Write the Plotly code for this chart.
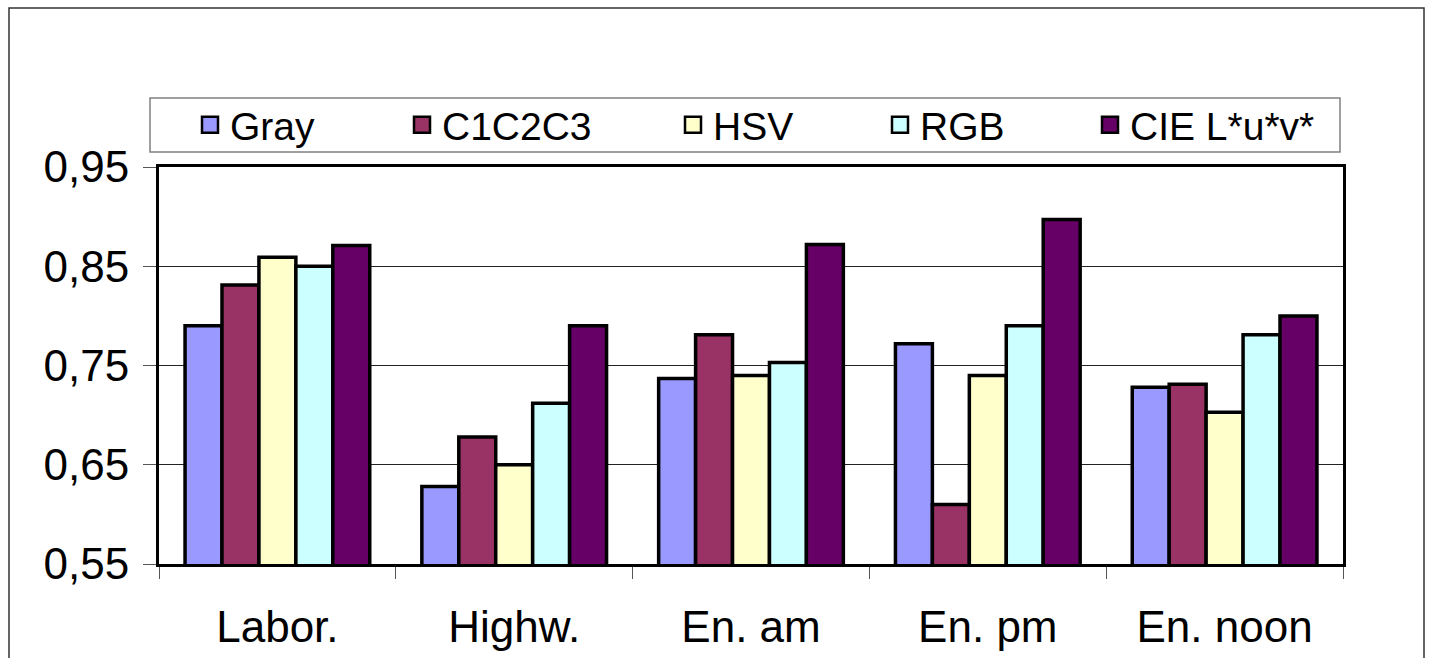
import plotly.graph_objects as go

categories = ["Labor.", "Highw.", "En. am", "En. pm", "En. noon"]
series_names = ["Gray", "C1C2C3", "HSV", "RGB", "CIE L*u*v*"]
gray = [0.79, 0.628, 0.737, 0.772, 0.728]
c1c2c3 = [0.831, 0.678, 0.781, 0.61, 0.731]
hsv = [0.859, 0.65, 0.74, 0.74, 0.703]
rgb = [0.85, 0.712, 0.753, 0.79, 0.781]
cie = [0.871, 0.79, 0.872, 0.897, 0.80]
colors = ["#9999FF", "#993366", "#FFFFCC", "#CCFFFF", "#660066"]
y_ticks = [0.55, 0.65, 0.75, 0.85, 0.95]

series_values = [gray, c1c2c3, hsv, rgb, cie]

W, H = 1431, 658
L, R, T, B = 159, 88, 167, 94
PW, PH = W - L - R, H - T - B

def px_x(px):
    return (px - L) / PW

def px_y(py):
    return (H - B - py) / PH

FONT = "Liberation Sans, Arial, sans-serif"

fig = go.Figure()
legend_text_x = [230, 442, 713, 920, 1130]
for i, (name, vals, col) in enumerate(zip(series_names, series_values, colors)):
    lg = "legend" if i == 0 else f"legend{i+1}"
    fig.add_trace(go.Bar(
        x=categories, y=vals, name=name,
        marker=dict(color=col, line=dict(color="black", width=3.5)),
        legendgroup=name, showlegend=False,
    ))
    # legend swatch (larger square like the original)
    fig.add_trace(go.Scatter(
        x=[None], y=[None], name=name, mode="markers",
        marker=dict(symbol="square", size=16, color=col,
                    line=dict(color="black", width=2.5)),
        legendgroup=name, showlegend=True, legend=lg, hoverinfo="skip",
    ))

legend_common = dict(
    orientation="h", xanchor="left", yanchor="middle",
    bgcolor="rgba(0,0,0,0)", borderwidth=0,
    font=dict(family=FONT, size=39, color="black"),
    xref="paper", yref="paper", itemsizing="trace",
)
for i, tx in enumerate(legend_text_x):
    key = "legend" if i == 0 else f"legend{i+1}"
    fig.update_layout(**{key: dict(x=px_x(tx - 40), y=px_y(125), **legend_common)})

fig.update_layout(
    width=W, height=H, autosize=False,
    margin=dict(l=L, r=R, t=T, b=B, pad=0, autoexpand=False),
    paper_bgcolor="white", plot_bgcolor="white",
    barmode="group", bargap=0.22, bargroupgap=0,
    separators=", ",
    font=dict(family=FONT, color="black"),
    showlegend=True,
    shapes=[
        dict(type="rect", xref="paper", yref="paper",
             x0=px_x(9), x1=px_x(1424), y0=px_y(700), y1=px_y(8),
             line=dict(color="#333333", width=1.5), fillcolor="rgba(0,0,0,0)", layer="below"),
        dict(type="rect", xref="paper", yref="paper",
             x0=px_x(150), x1=px_x(1340), y0=px_y(152), y1=px_y(98),
             line=dict(color="#808080", width=1.5), fillcolor="white", layer="below"),
    ],
)

fig.update_xaxes(
    type="category", tickson="boundaries",
    ticks="outside", ticklen=12, tickwidth=1, tickcolor="#555555",
    showline=True, linecolor="black", linewidth=3, mirror=True,
    showgrid=False,
    tickfont=dict(family=FONT, size=44, color="black"),
    ticklabelstandoff=22,
)
fig.update_yaxes(
    range=[0.55, 0.95], tickvals=y_ticks, tickformat=".2f",
    ticks="outside", ticklen=13, tickwidth=1, tickcolor="#555555",
    showline=True, linecolor="black", linewidth=3, mirror=True,
    showgrid=True, gridcolor="#222222", gridwidth=1,
    zeroline=False,
    tickfont=dict(family=FONT, size=44, color="black"),
    ticklabelstandoff=5,
)

fig.write_html("out.html")
